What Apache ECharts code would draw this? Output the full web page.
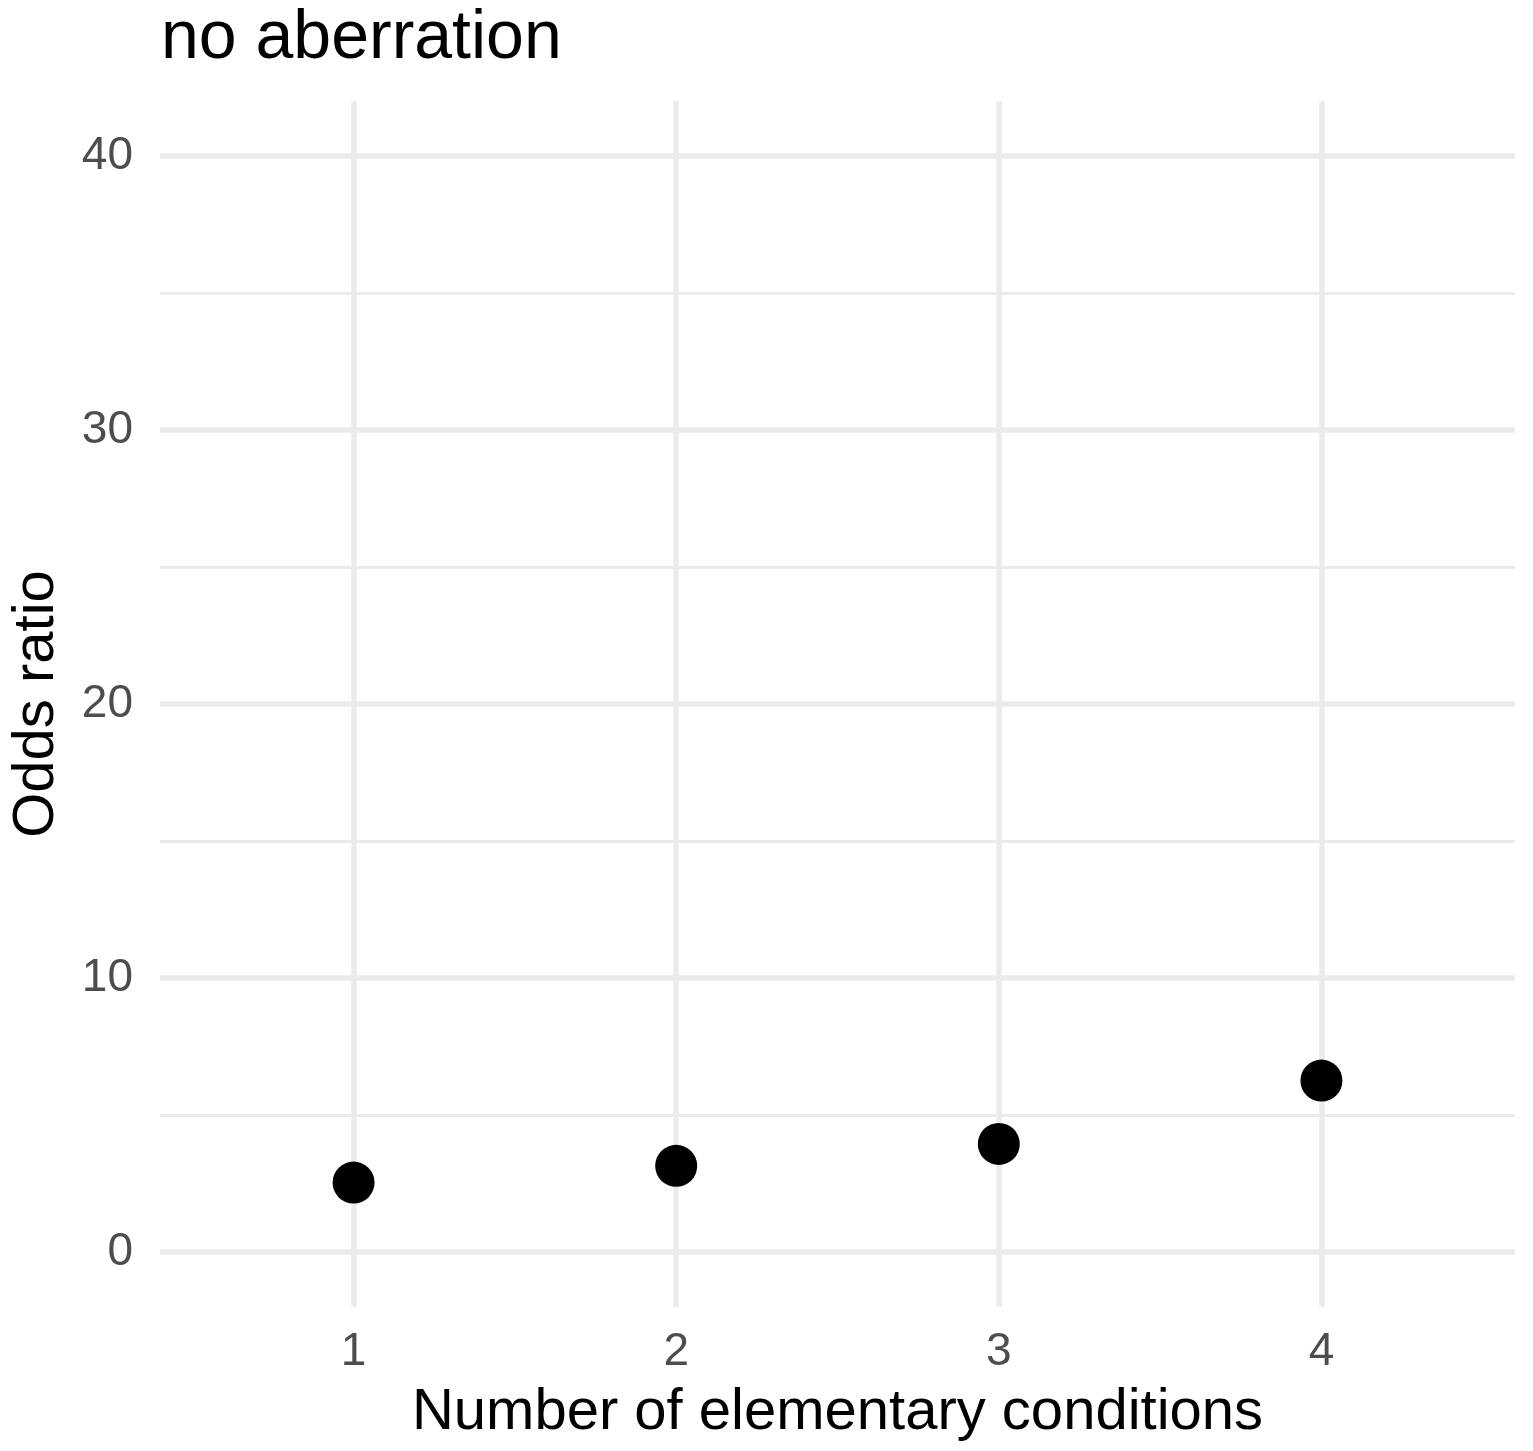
<!DOCTYPE html>
<html>
<head>
<meta charset="utf-8">
<script src="https://cdn.jsdelivr.net/npm/echarts@6/dist/echarts.min.js"></script>
<style>
html,body{margin:0;padding:0;background:#fff;}
#chart{width:1533px;height:1451px;}
</style>
</head>
<body>
<div id="chart"></div>
<script>
// Data
const conditions = [1, 2, 3, 4];
const oddsRatios = [2.54, 3.15, 3.95, 6.26];
const yMajorTicks = [0, 10, 20, 30, 40];
const yMinorTicks = [5, 15, 25, 35];
const xTicks = [1, 2, 3, 4];
const titleText = 'no aberration';
const xTitle = 'Number of elementary conditions';
const yTitle = 'Odds ratio';

const FONT = '"Liberation Sans", Arial, Helvetica, sans-serif';
const GRID = '#EBEBEB';

const chart = echarts.init(document.getElementById('chart'), null, {renderer: 'canvas'});

const gridLines = [];
xTicks.forEach(v => gridLines.push({xAxis: v, lineStyle: {color: GRID, width: 5.5, type: 'solid'}}));
yMinorTicks.forEach(v => gridLines.push({yAxis: v, lineStyle: {color: GRID, width: 3, type: 'solid'}}));
yMajorTicks.forEach(v => gridLines.push({yAxis: v, lineStyle: {color: GRID, width: 5.5, type: 'solid'}}));

chart.setOption({
  animation: false,
  backgroundColor: '#ffffff',
  title: {
    text: titleText,
    left: 156,
    top: 0,
    textStyle: {fontFamily: FONT, fontSize: 68, fontWeight: 'normal', color: '#000000'}
  },
  grid: {left: 160, right: 18, top: 101, bottom: 144, containLabel: false},
  xAxis: {
    type: 'value',
    min: 0.4,
    max: 4.6,
    name: xTitle,
    nameLocation: 'middle',
    nameGap: 77,
    nameTextStyle: {fontFamily: FONT, fontSize: 58, color: '#000000'},
    axisLine: {show: false},
    axisTick: {show: false, customValues: xTicks},
    splitLine: {show: false},
    axisLabel: {
      customValues: xTicks,
      margin: 22,
      fontFamily: FONT,
      fontSize: 46,
      color: '#4D4D4D'
    }
  },
  yAxis: {
    type: 'value',
    min: -2,
    max: 42,
    name: yTitle,
    nameLocation: 'middle',
    nameGap: 94,
    nameRotate: 90,
    nameTextStyle: {fontFamily: FONT, fontSize: 58, color: '#000000'},
    axisLine: {show: false},
    axisTick: {show: false, customValues: yMajorTicks},
    splitLine: {show: false},
    axisLabel: {
      customValues: yMajorTicks,
      margin: 27,
      fontFamily: FONT,
      fontSize: 46,
      color: '#4D4D4D'
    }
  },
  series: [
    {
      type: 'line',
      data: [],
      z: 1,
      silent: true,
      markLine: {
        silent: true,
        symbol: ['none', 'none'],
        label: {show: false},
        emphasis: {disabled: true},
        animation: false,
        data: gridLines
      }
    },
    {
      type: 'scatter',
      z: 5,
      symbol: 'circle',
      symbolSize: 42,
      itemStyle: {color: '#000000', opacity: 1},
      data: conditions.map((c, i) => [c, oddsRatios[i]])
    }
  ]
});
</script>
</body>
</html>
